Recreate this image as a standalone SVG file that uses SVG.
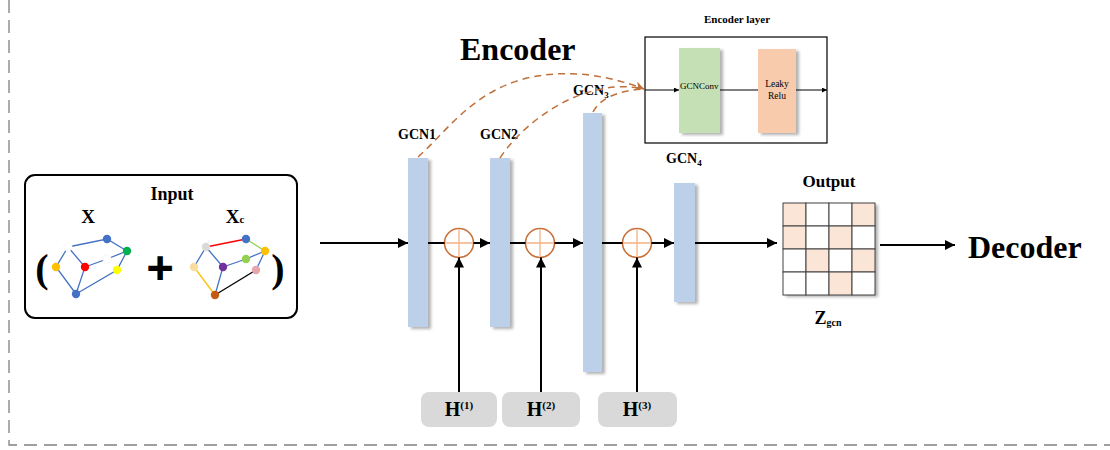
<svg xmlns="http://www.w3.org/2000/svg" width="1110" height="450" viewBox="0 0 1110 450">
<style>
  text { font-family: "Liberation Serif", "Times New Roman", serif; fill: #000; }
  .b { font-weight: bold; }
  .main { stroke: #000; stroke-width: 2; fill: none; }
  .thin { stroke: #000; stroke-width: 1; fill: none; }
  .col { fill: #bdd0e9; filter: url(#sh); }
  .edge { stroke: #4472c4; stroke-width: 1.3; fill: none; }
  .dash { stroke: #c0703a; stroke-width: 1.5; fill: none; stroke-dasharray: 7 5; }
  .plus { fill: #fff; stroke: #c8713a; stroke-width: 1.6; }
  .cross { stroke: #f4b183; stroke-width: 1.3; }
  .hbox { fill: #d9d9d9; }
  .cell { stroke: #404040; stroke-width: 1; }
</style>
<defs>
  <filter id="sh" x="-30%" y="-10%" width="160%" height="120%">
    <feDropShadow dx="3" dy="2" stdDeviation="1.5" flood-color="#000" flood-opacity="0.3"/>
  </filter>
  <marker id="ah" viewBox="0 0 10 10" refX="10" refY="5" markerWidth="11" markerHeight="10" markerUnits="userSpaceOnUse" orient="auto">
    <path d="M0,0 L10,5 L0,10 z" fill="#000"/>
  </marker>
  <marker id="ahs" viewBox="0 0 10 10" refX="10" refY="5" markerWidth="6" markerHeight="5" markerUnits="userSpaceOnUse" orient="auto">
    <path d="M0,0 L10,5 L0,10 z" fill="#000"/>
  </marker>
  <marker id="ahb" viewBox="0 0 10 10" refX="10" refY="5" markerWidth="12" markerHeight="9" markerUnits="userSpaceOnUse" orient="auto">
    <path d="M0,0 L10,5 L0,10 L3,5 z" fill="#c0703a"/>
  </marker>
</defs>

<!-- dashed frame -->
<path d="M9,0 L9,445 L1110,445" fill="none" stroke="#808080" stroke-width="1.3" stroke-dasharray="13 7"/>

<!-- Input -->
<g id="input">
  <rect x="25" y="175" width="272" height="143" rx="10" fill="#fff" stroke="#000" stroke-width="2"/>
  <text x="172" y="200" class="b" font-size="18" text-anchor="middle">Input</text>
  <text x="88" y="223" class="b" font-size="19" text-anchor="middle">X</text>
  <text x="235" y="223" class="b" font-size="19" text-anchor="middle">X<tspan font-size="11">c</tspan></text>
  <text x="42" y="282" class="b" font-size="40" text-anchor="middle">(</text>
  <text x="278" y="282" class="b" font-size="40" text-anchor="middle">)</text>
  <text x="160" y="284" class="b" font-size="46" text-anchor="middle" stroke="#000" stroke-width="2.2">+</text>
  <g id="graphX">
    <path class="edge" d="M68,247 L107,239 L127,251 M68,247 L56,267 L76,294 M68,247 L85,267 L76,294 M85,267 L107,259 L127,251 L117,270 L76,294"/>
    <circle cx="68" cy="247" r="4.2" fill="#fff" stroke="#eee" stroke-width="0.5"/>
    <circle cx="107" cy="239" r="4.2" fill="#4472c4"/>
    <circle cx="127" cy="251" r="4.2" fill="#00b050"/>
    <circle cx="107" cy="259" r="4.2" fill="#fff" stroke="#eee" stroke-width="0.5"/>
    <circle cx="56" cy="267" r="4.2" fill="#ffc000"/>
    <circle cx="85" cy="267" r="4.2" fill="#ff0000"/>
    <circle cx="117" cy="270" r="4.2" fill="#ffff00"/>
    <circle cx="76" cy="294" r="4.2" fill="#4472c4"/>
  </g>
  <g id="graphXc">
    <path d="M206,247 L246,239" stroke="#ff0000" stroke-width="1.3"/>
    <path d="M246,239 L265,251" stroke="#92d050" stroke-width="1.3"/>
    <path d="M194,267 L215,295" stroke="#ffc000" stroke-width="1.3"/>
    <path d="M256,270 L215,295" stroke="#000" stroke-width="1.3"/>
    <path class="edge" d="M206,247 L194,267 M206,247 L223,267 L215,295 M223,267 L246,259 L265,251 L256,270"/>
    <circle cx="206" cy="247" r="4.2" fill="#d9d9d9"/>
    <circle cx="246" cy="239" r="4.2" fill="#4472c4"/>
    <circle cx="265" cy="251" r="4.2" fill="#ffc000"/>
    <circle cx="246" cy="259" r="4.2" fill="#92d050"/>
    <circle cx="194" cy="267" r="4.2" fill="#f8dca0"/>
    <circle cx="223" cy="267" r="4.2" fill="#7030a0"/>
    <circle cx="256" cy="270" r="4.2" fill="#e6a5ab"/>
    <circle cx="215" cy="295" r="4.2" fill="#c55a11"/>
  </g>
</g>

<text x="460" y="60" class="b" font-size="32">Encoder</text>

<!-- Encoder layer -->
<g id="encoder-layer">
  <text x="737" y="23" class="b" font-size="11" text-anchor="middle">Encoder layer</text>
  <rect x="645" y="37" width="182" height="106" fill="#fff" stroke="#000" stroke-width="1.2"/>
  <rect x="679" y="48" width="41" height="85" fill="#c5e0b4" filter="url(#sh)"/>
  <rect x="758" y="49" width="38" height="84" fill="#f8cbad" filter="url(#sh)"/>
  <text x="680" y="89" font-size="9">GCNConv</text>
  <text x="777" y="87" font-size="9.5" text-anchor="middle">Leaky</text>
  <text x="777" y="99" font-size="9.5" text-anchor="middle">Relu</text>
</g>

<!-- GCN columns -->
<g id="gcn1">
  <rect class="col" x="408" y="158" width="20" height="169"/>
  <text x="398" y="139" class="b" font-size="14">GCN1</text>
</g>
<g id="gcn2">
  <rect class="col" x="490" y="158" width="20" height="169"/>
  <text x="480" y="139" class="b" font-size="14">GCN2</text>
</g>
<g id="gcn3">
  <rect class="col" x="583" y="113" width="19" height="259"/>
  <text x="573" y="95" class="b" font-size="14">GCN<tspan font-size="9" dy="3">3</tspan></text>
</g>
<g id="gcn4">
  <rect class="col" x="674" y="183" width="21" height="119"/>
  <text x="666" y="163" class="b" font-size="14">GCN<tspan font-size="9" dy="3">4</tspan></text>
</g>

<!-- plus circles -->
<g id="add1"><circle class="plus" cx="459" cy="243" r="14.5"/><path class="cross" d="M445.5,243 H472.5 M459,229.5 V256.5"/></g>
<g id="add2"><circle class="plus" cx="540" cy="243" r="14.5"/><path class="cross" d="M526.5,243 H553.5 M540,229.5 V256.5"/></g>
<g id="add3"><circle class="plus" cx="637" cy="243" r="14.5"/><path class="cross" d="M623.5,243 H650.5 M637,229.5 V256.5"/></g>

<!-- H boxes -->
<g id="h1"><rect class="hbox" x="421" y="392" width="76" height="35" rx="8"/><text x="459" y="416" class="b" font-size="20" text-anchor="middle">H<tspan font-size="11" dy="-7">(1)</tspan></text></g>
<g id="h2"><rect class="hbox" x="502" y="392" width="78" height="35" rx="8"/><text x="541" y="416" class="b" font-size="20" text-anchor="middle">H<tspan font-size="11" dy="-7">(2)</tspan></text></g>
<g id="h3"><rect class="hbox" x="598" y="392" width="79" height="35" rx="8"/><text x="637" y="416" class="b" font-size="20" text-anchor="middle">H<tspan font-size="11" dy="-7">(3)</tspan></text></g>

<!-- Output -->
<g id="output">
  <text x="829" y="187" class="b" font-size="17" text-anchor="middle">Output</text>
  <g filter="url(#sh)">
    <rect x="783" y="203" width="92" height="92" fill="#fff"/>
  </g>
  <g class="cell">
    <rect x="783" y="203" width="23" height="23" fill="#fbe5d6"/>
    <rect x="806" y="203" width="23" height="23" fill="#fff"/>
    <rect x="829" y="203" width="23" height="23" fill="#fff"/>
    <rect x="852" y="203" width="23" height="23" fill="#fbe5d6"/>
    <rect x="783" y="226" width="23" height="23" fill="#fbe5d6"/>
    <rect x="806" y="226" width="23" height="23" fill="#fff"/>
    <rect x="829" y="226" width="23" height="23" fill="#fbe5d6"/>
    <rect x="852" y="226" width="23" height="23" fill="#fff"/>
    <rect x="783" y="249" width="23" height="23" fill="#fff"/>
    <rect x="806" y="249" width="23" height="23" fill="#fbe5d6"/>
    <rect x="829" y="249" width="23" height="23" fill="#fff"/>
    <rect x="852" y="249" width="23" height="23" fill="#fbe5d6"/>
    <rect x="783" y="272" width="23" height="23" fill="#fff"/>
    <rect x="806" y="272" width="23" height="23" fill="#fff"/>
    <rect x="829" y="272" width="23" height="23" fill="#fbe5d6"/>
    <rect x="852" y="272" width="23" height="23" fill="#fff"/>
  </g>
  <text x="828" y="324" class="b" font-size="18" text-anchor="middle">Z<tspan font-size="10" dy="2">gcn</tspan></text>
</g>

<g id="decoder">
  <text x="968" y="258" class="b" font-size="32">Decoder</text>
</g>

<!-- connectors -->
<g id="connectors">
  <line class="main" x1="320" y1="243" x2="408" y2="243" marker-end="url(#ah)"/>
  <line class="main" x1="428" y1="243" x2="444.5" y2="243"/>
  <line class="main" x1="473.5" y1="243" x2="490" y2="243" marker-end="url(#ah)"/>
  <line class="main" x1="510" y1="243" x2="525.5" y2="243"/>
  <line class="main" x1="554.5" y1="243" x2="583" y2="243" marker-end="url(#ah)"/>
  <line class="main" x1="602" y1="243" x2="622.5" y2="243"/>
  <line class="main" x1="651.5" y1="243" x2="674" y2="243" marker-end="url(#ah)"/>
  <line class="main" x1="695" y1="243" x2="777" y2="243" marker-end="url(#ah)"/>
  <line class="main" x1="880" y1="245" x2="955" y2="245" marker-end="url(#ah)"/>
  <line class="main" x1="459" y1="392" x2="459" y2="257.5" marker-end="url(#ah)"/>
  <line class="main" x1="541" y1="392" x2="541" y2="257.5" marker-end="url(#ah)"/>
  <line class="main" x1="637" y1="392" x2="637" y2="257.5" marker-end="url(#ah)"/>
  <line class="thin" x1="645" y1="90" x2="679" y2="90" marker-end="url(#ahs)"/>
  <line class="thin" x1="720" y1="90" x2="758" y2="90"/>
  <line class="thin" x1="796" y1="90" x2="827" y2="90" marker-end="url(#ahs)"/>
  <path class="dash" d="M418,157 C445,133 470,95 520,80 C565,67 610,76 644,89" marker-end="url(#ahb)"/>
  <path class="dash" d="M500,158 C515,135 545,108 580,95 C605,86 625,85 644,89"/>
  <path class="dash" d="M593,112 C600,99 615,91 644,89"/>
</g>
</svg>
